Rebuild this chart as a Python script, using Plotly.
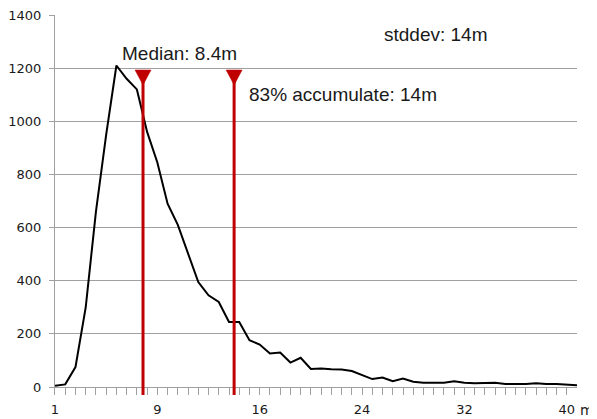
import plotly.graph_objects as go

# ---- data ----
counts = [5, 10, 75, 300, 660, 950, 1210, 1160, 1120, 960,
          845, 690, 610, 500, 395, 345, 320, 245, 245, 176,
          160, 126, 130, 92, 110, 68, 70, 67, 66, 60,
          45, 30, 36, 22, 32, 20, 16, 16, 16, 22,
          16, 14, 16, 16, 11, 11, 11, 14, 11, 11,
          8, 7]
positions = list(range(len(counts)))          # category positions
x_tick_labels = ["1", "9", "16", "24", "32", "40"]
x_label_every = 10
y_ticks = [0, 200, 400, 600, 800, 1000, 1200, 1400]

median_pos = 8.6        # category position of the median marker
accum_pos = 17.5        # category position of the 83% marker
marker_top = 1193       # value at which the markers' triangles sit
line_bottom = -30       # markers' lines extend a bit below the axis

median_label = "Median: 8.4m"
accum_label = "83% accumulate: 14m"
stddev_label = "stddev: 14m"

RED = "#C00000"
GRID = "#A0A0A0"
TXT = "#1a1a1a"

ticktext = [x_tick_labels[i // x_label_every] if i % x_label_every == 0 and i // x_label_every < len(x_tick_labels) else ""
            for i in positions]

fig = go.Figure()
fig.add_trace(go.Scatter(x=positions, y=counts, mode="lines",
                         line=dict(color="black", width=2), hoverinfo="skip"))

shapes = []
for p in (median_pos, accum_pos):
    shapes.append(dict(type="line", xref="x", yref="y", x0=p, x1=p,
                       y0=line_bottom, y1=marker_top,
                       line=dict(color=RED, width=3), layer="above"))
    shapes.append(dict(type="path", xref="x", yref="y",
                       xsizemode="pixel", ysizemode="pixel",
                       xanchor=p, yanchor=marker_top,
                       path="M-8,0 L8,0 L0,-15 Z",
                       fillcolor=RED, line=dict(color=RED, width=0.5), layer="above"))

annots = [
    dict(text=median_label, x=6.35, y=1257, xanchor="left", yanchor="middle"),
    dict(text=accum_label, x=18.75, y=1099, xanchor="left", yanchor="middle"),
    dict(text=stddev_label, x=31.95, y=1325, xanchor="left", yanchor="middle"),
]
for a in annots:
    a.update(xref="x", yref="y", showarrow=False,
             font=dict(family="Liberation Sans, Arial", size=19, color=TXT))
annots.append(dict(text="m", xref="paper", yref="paper", x=1, y=0, xanchor="left",
                   yanchor="middle", xshift=1, yshift=-15, showarrow=False,
                   font=dict(family="DejaVu Sans", size=14, color=TXT)))

# the page body adds an 8px margin, so the figure is sized/offset to compensate
fig.update_layout(
    width=589, height=411,
    margin=dict(l=47, r=20, t=7, b=24, autoexpand=False),
    paper_bgcolor="white", plot_bgcolor="white",
    showlegend=False,
    shapes=shapes, annotations=annots,
    font=dict(family="DejaVu Sans", size=13, color=TXT),
)
fig.update_xaxes(range=[0, len(counts) - 1], tickmode="array", tickvals=positions,
                 ticktext=ticktext, ticks="inside", ticklen=8, tickcolor=GRID,
                 showgrid=False, zeroline=False, showline=False, automargin=False,
                 ticklabelstandoff=5, ticklabeloverflow="allow",
                 tickfont=dict(family="DejaVu Sans", size=13, color=TXT))
fig.update_yaxes(range=[line_bottom, 1400], tickmode="array", tickvals=y_ticks,
                 ticks="outside", ticklen=5, tickcolor=GRID,
                 showgrid=True, gridcolor=GRID, gridwidth=1, zeroline=False,
                 showline=True, linecolor=GRID, linewidth=1, automargin=False,
                 ticklabelstandoff=5, ticklabeloverflow="allow",
                 tickfont=dict(family="DejaVu Sans", size=13, color=TXT))

fig.write_html("out.html")
